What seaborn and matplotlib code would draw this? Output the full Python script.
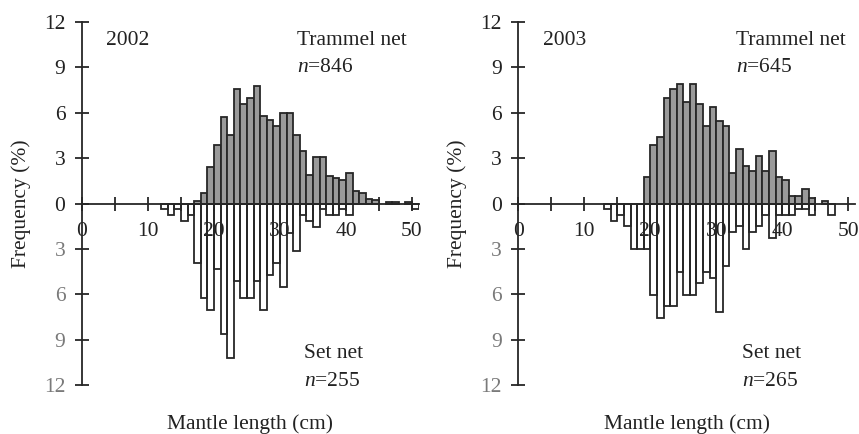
import numpy as np
import pandas as pd
import matplotlib
matplotlib.use("Agg")
import matplotlib.pyplot as plt
import seaborn as sns

# ---------------- data (bin left edge in cm, frequency in %) ----------------
bins_2002_trammel = [17, 18, 19, 20, 21, 22, 23, 24, 25, 26, 27, 28, 29, 30, 31, 32, 33,
                     34, 35, 36, 37, 38, 39, 40, 41, 42, 43, 44, 46, 47, 49]
freq_2002_trammel = [0.15, 0.7, 2.4, 3.9, 5.7, 4.5, 7.55, 6.6, 6.95, 7.8, 5.8, 5.55, 5.1,
                     6.0, 6.0, 4.5, 3.45, 1.9, 3.05, 3.05, 1.8, 1.7, 1.55, 2.0, 0.85, 0.7,
                     0.3, 0.25, 0.12, 0.12, 0.12]

bins_2002_setnet = [12, 13, 14, 15, 16, 17, 18, 19, 20, 21, 22, 23, 24, 25, 26, 27, 28,
                    29, 30, 31, 32, 33, 34, 35, 36, 37, 38, 39, 40, 50]
freq_2002_setnet = [0.39, 0.78, 0.39, 1.18, 0.78, 3.92, 6.27, 7.06, 4.31, 8.63, 10.2, 5.1,
                    6.27, 6.27, 5.1, 7.06, 4.71, 3.92, 5.49, 1.96, 3.14, 0.78, 1.18, 1.57,
                    0.39, 0.78, 0.78, 0.39, 0.78, 0.39]

bins_2003_trammel = [19, 20, 21, 22, 23, 24, 25, 26, 27, 28, 29, 30, 31, 32, 33, 34, 35,
                     36, 37, 38, 39, 40, 41, 42, 43, 44, 46]
freq_2003_trammel = [1.74, 3.9, 4.37, 7.0, 7.58, 7.93, 6.68, 7.93, 6.55, 5.14, 6.37, 5.45,
                     5.14, 2.02, 3.6, 2.5, 2.18, 3.12, 2.18, 3.45, 1.74, 1.58, 0.48, 0.48,
                     0.97, 0.37, 0.15]

bins_2003_setnet = [13, 14, 15, 16, 17, 18, 19, 20, 21, 22, 23, 24, 25, 26, 27, 28, 29,
                    30, 31, 32, 33, 34, 35, 36, 37, 38, 39, 40, 41, 42, 43, 44, 47]
freq_2003_setnet = [0.38, 1.13, 0.75, 1.51, 3.02, 3.02, 3.02, 6.04, 7.55, 6.79, 6.79, 4.53,
                    6.04, 6.04, 5.28, 4.53, 4.91, 7.17, 4.15, 1.89, 1.51, 3.02, 1.89, 1.51,
                    0.75, 2.26, 0.75, 0.75, 0.75, 0.38, 0.38, 0.75, 0.75]

years = ["2002", "2003"]
trammel_n = [846, 645]
setnet_n = [255, 265]

x_ticks_major = [0, 10, 20, 30, 40, 50]
x_ticks_minor = [5, 15, 25, 35, 45]
y_ticks = [-12, -9, -6, -3, 0, 3, 6, 9, 12]

# ---------------- style ----------------
sns.set_style("ticks")
plt.rcParams["font.family"] = ["Liberation Serif", "DejaVu Serif"]
plt.rcParams["mathtext.fontset"] = "custom"
plt.rcParams["mathtext.rm"] = "Liberation Serif"
plt.rcParams["mathtext.it"] = "Liberation Serif:italic"

FS = 15.5
TXT = "#222222"
GREY_FILL = "#9a9a9a"
EDGE = "#262626"

fig = plt.figure(figsize=(8.59, 4.34), dpi=100)
ax_pos = [[0.0955, 0.1129, 0.3918, 0.8364], [0.6034, 0.1129, 0.3918, 0.8364]]

panels = [
    (bins_2002_trammel, freq_2002_trammel, bins_2002_setnet, freq_2002_setnet),
    (bins_2003_trammel, freq_2003_trammel, bins_2003_setnet, freq_2003_setnet),
]
text_x = [(3.64, 32.6, 33.6), (3.7, 33.0, 33.9)]

for i, (bt, ft, bs, fsn) in enumerate(panels):
    ax = fig.add_axes(ax_pos[i])
    df_t = pd.DataFrame({"mantle": np.array(bt) + 0.5, "freq": ft})
    df_s = pd.DataFrame({"mantle": np.array(bs) + 0.5, "freq": -np.array(fsn)})
    sns.barplot(data=df_t, x="mantle", y="freq", native_scale=True, width=1,
                color=GREY_FILL, edgecolor=EDGE, linewidth=1.3, saturation=1,
                errorbar=None, ax=ax, zorder=2)
    n_before = len(ax.patches)
    sns.barplot(data=df_s, x="mantle", y="freq", native_scale=True, width=1,
                color="white", edgecolor=EDGE, linewidth=1.3, saturation=1,
                errorbar=None, ax=ax, zorder=2)
    # open (unfilled) bars for the set net so tick labels show through
    for p in ax.patches[n_before:]:
        p.set_facecolor((1, 1, 1, 0))

    ax.set_xlim(0, 51)
    ax.set_ylim(-12, 12)
    for s in ["top", "right"]:
        ax.spines[s].set_visible(False)
    ax.spines["bottom"].set_position(("data", 0))
    ax.spines["bottom"].set_zorder(3)
    for s in ["left", "bottom"]:
        ax.spines[s].set_linewidth(1.3)
        ax.spines[s].set_color(EDGE)

    ax.set_xticks(x_ticks_major)
    ax.set_xticklabels([str(v) for v in x_ticks_major])
    ax.set_xticks(x_ticks_minor, minor=True)
    ax.set_yticks(y_ticks)
    ax.set_yticklabels([str(abs(v)) for v in y_ticks])
    ax.tick_params(axis="x", which="both", direction="inout", length=10, width=1.3,
                   color=EDGE, labelsize=FS, labelcolor=TXT, pad=8)
    ax.tick_params(axis="y", direction="inout", length=10, width=1.3, color=EDGE,
                   labelsize=FS, pad=7)
    for v, lab in zip(y_ticks, ax.get_yticklabels()):
        lab.set_color(TXT if v >= 0 else "#7a7a7a")

    ax.set_xlabel("Mantle length (cm)", fontsize=FS, color=TXT)
    ax.xaxis.label.set_va("baseline")
    ax.xaxis.set_label_coords(0.5, -0.121)
    ax.set_ylabel("Frequency (%)", fontsize=FS, color=TXT)
    ax.yaxis.label.set_va("center")
    ax.yaxis.set_label_coords(-0.181, 0.5)

    xa, xt, xs = text_x[i]
    ax.text(xa, 10.5, years[i], fontsize=FS, color=TXT, va="baseline", ha="left")
    ax.text(xt, 10.5, "Trammel net", fontsize=FS, color=TXT, va="baseline", ha="left")
    ax.text(xt, 8.7, r"$\it{n}$=%d" % trammel_n[i], fontsize=FS, color=TXT,
            va="baseline", ha="left")
    ax.text(xs, -10.2, "Set net", fontsize=FS, color=TXT, va="baseline", ha="left")
    ax.text(xs, -12.05, r"$\it{n}$=%d" % setnet_n[i], fontsize=FS, color=TXT,
            va="baseline", ha="left")
    ax.patch.set_alpha(0)

fig.savefig("out.png", dpi=100)
